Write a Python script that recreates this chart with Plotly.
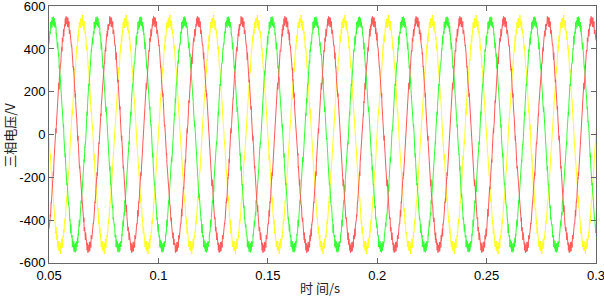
import numpy as np
import plotly.graph_objects as go

# --- values ---
t_start, t_end = 0.05, 0.30          # time window, s
freq_hz = 50                          # fundamental, Hz (period 0.02 s)
amplitude_v = 532                     # peak phase voltage, V
phase_names = ["A", "B", "C"]
phase_peak_time = [0.0650, 0.0718, 0.0581]   # time of a positive peak, s (yellow, green, red)
phase_colors = ["#ffff22", "#33ff33", "#ff5a5a"]
ripple_amp_v = [13, 9, 7]             # switching ripple amplitudes, V
ripple_freq_hz = [2350, 3650, 5150]   # switching ripple frequencies, Hz
x_ticks = [0.05, 0.1, 0.15, 0.2, 0.25, 0.3]
x_tick_text = ["0.05", "0.1", "0.15", "0.2", "0.25", "0.3"]
y_ticks = [-600, -400, -200, 0, 200, 400, 600]
y_tick_text = ["-600", "-400", "-200", "0", "200", "400", "600"]

t = np.arange(t_start, t_end + 1e-9, 2e-5)

fig = go.Figure()
for i, (name, tp, col) in enumerate(zip(phase_names, phase_peak_time, phase_colors)):
    v = amplitude_v * np.cos(2 * np.pi * freq_hz * (t - tp))
    for k, (ra, rf) in enumerate(zip(ripple_amp_v, ripple_freq_hz)):
        v = v + ra * np.sin(2 * np.pi * rf * t + 1.3 * i + 0.7 * k)
    fig.add_trace(go.Scatter(x=t, y=v, mode="lines", name=name,
                             line=dict(color=col, width=1.0), showlegend=False))

axis_common = dict(showline=True, linecolor="#666666", linewidth=1, mirror="ticks",
                   ticks="inside", ticklen=5, tickcolor="#666666", showgrid=False,
                   zeroline=False, ticklabeloverflow="allow", automargin=False,
                   tickfont=dict(family="Liberation Sans, Arial", size=13, color="#000"))
fig.update_layout(
    width=604, height=296,
    margin=dict(l=49, r=8, t=6, b=33, autoexpand=False),
    paper_bgcolor="white", plot_bgcolor="white",
    xaxis=dict(range=[t_start - 0.00002, t_end + 0.00002], tickvals=x_ticks, ticktext=x_tick_text,
               **axis_common),
    yaxis=dict(range=[-601, 601], tickvals=y_ticks, ticktext=y_tick_text, **axis_common),
    annotations=[
        dict(text="时 间/s", xref="paper", yref="paper", x=0.495, y=-0.097, yanchor="middle",
             xanchor="center", showarrow=False,
             font=dict(family="Noto Sans CJK SC", size=13, color="#222")),
        dict(text="三相电压/V", xref="paper", yref="paper", x=-0.0735, y=0.498, xanchor="center",
             yanchor="middle", textangle=-90, showarrow=False,
             font=dict(family="Noto Sans CJK SC", size=13, color="#222")),
    ],
)
fig.write_html("out.html", config={"displayModeBar": False},
               post_script="document.body.style.margin='0px';document.body.style.overflow='hidden';")
